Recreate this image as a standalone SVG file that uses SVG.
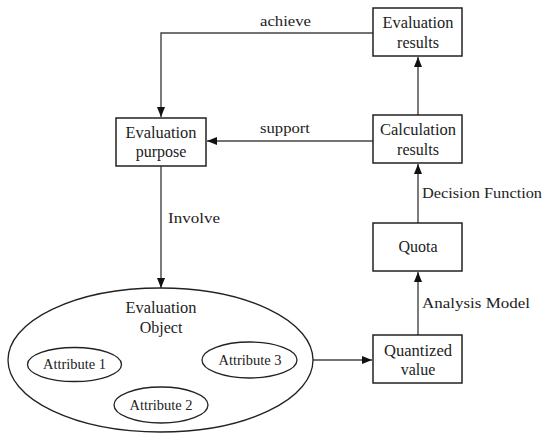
<svg xmlns="http://www.w3.org/2000/svg" width="543" height="433" viewBox="0 0 543 433">
<defs>
<marker id="arr" markerWidth="10" markerHeight="8" refX="10" refY="4" orient="auto" markerUnits="userSpaceOnUse">
<path d="M0,0 L10,4 L0,8 Z" fill="#111"/>
</marker>
<style>
.box{fill:#fff;stroke:#222;stroke-width:1.5}
.ell{fill:#fff;stroke:#222;stroke-width:1.3}
.t{font-family:"Liberation Serif","Times New Roman",serif;font-size:16px;fill:#222;text-anchor:middle}
.s{font-family:"Liberation Serif","Times New Roman",serif;font-size:14px;fill:#222;text-anchor:middle}
.l{font-family:"Liberation Serif","Times New Roman",serif;font-size:15px;fill:#222}
.c{fill:none;stroke:#444;stroke-width:1.4}
</style>
</defs>
<rect width="543" height="433" fill="#fff"/>
<g id="connectors">
<polyline class="c" points="373,33 161,33 161,117" marker-end="url(#arr)"/>
<line class="c" x1="373" y1="141" x2="207" y2="141" marker-end="url(#arr)"/>
<line class="c" x1="161" y1="166" x2="161" y2="288" marker-end="url(#arr)"/>
<line class="c" x1="418" y1="115" x2="418" y2="57" marker-end="url(#arr)"/>
<line class="c" x1="418" y1="223" x2="418" y2="164" marker-end="url(#arr)"/>
<line class="c" x1="418" y1="335" x2="418" y2="272" marker-end="url(#arr)"/>
<line class="c" x1="313" y1="360" x2="372" y2="360" marker-end="url(#arr)"/>
<text class="l" x="260" y="26" textLength="51" lengthAdjust="spacingAndGlyphs">achieve</text>
<text class="l" x="260" y="133" textLength="50" lengthAdjust="spacingAndGlyphs">support</text>
<text class="l" x="168" y="223" textLength="52" lengthAdjust="spacingAndGlyphs">Involve</text>
<text class="l" x="422" y="198" textLength="120" lengthAdjust="spacingAndGlyphs">Decision Function</text>
<text class="l" x="422" y="308" textLength="108" lengthAdjust="spacingAndGlyphs">Analysis Model</text>
</g>
<g id="evaluation-results">
<rect class="box" x="373" y="8" width="89" height="48"/>
<text class="t" x="418" y="28" textLength="71" lengthAdjust="spacingAndGlyphs">Evaluation</text>
<text class="t" x="418" y="48">results</text>
</g>
<g id="calculation-results">
<rect class="box" x="373" y="115" width="89" height="48"/>
<text class="t" x="418" y="135" textLength="76" lengthAdjust="spacingAndGlyphs">Calculation</text>
<text class="t" x="418" y="155">results</text>
</g>
<g id="quota">
<rect class="box" x="373" y="223" width="89" height="48"/>
<text class="t" x="418" y="252">Quota</text>
</g>
<g id="quantized-value">
<rect class="box" x="373" y="335" width="89" height="48"/>
<text class="t" x="418" y="356" textLength="68" lengthAdjust="spacingAndGlyphs">Quantized</text>
<text class="t" x="418" y="375">value</text>
</g>
<g id="evaluation-purpose">
<rect class="box" x="116" y="118" width="90" height="48"/>
<text class="t" x="161" y="138" textLength="71" lengthAdjust="spacingAndGlyphs">Evaluation</text>
<text class="t" x="161" y="157">purpose</text>
</g>
<g id="evaluation-object">
<ellipse class="ell" cx="160.5" cy="360" rx="152.5" ry="72"/>
<text class="t" x="161" y="313" textLength="71" lengthAdjust="spacingAndGlyphs">Evaluation</text>
<text class="t" x="161" y="333">Object</text>
</g>
<g id="attribute-1">
<ellipse class="ell" cx="74.5" cy="364.5" rx="47" ry="17"/>
<text class="s" x="74.5" y="369" textLength="63" lengthAdjust="spacingAndGlyphs">Attribute 1</text>
</g>
<g id="attribute-2">
<ellipse class="ell" cx="161" cy="405" rx="47" ry="18"/>
<text class="s" x="161" y="410" textLength="63" lengthAdjust="spacingAndGlyphs">Attribute 2</text>
</g>
<g id="attribute-3">
<ellipse class="ell" cx="249.5" cy="360" rx="47.5" ry="18"/>
<text class="s" x="250" y="365" textLength="63" lengthAdjust="spacingAndGlyphs">Attribute 3</text>
</g>
</svg>
